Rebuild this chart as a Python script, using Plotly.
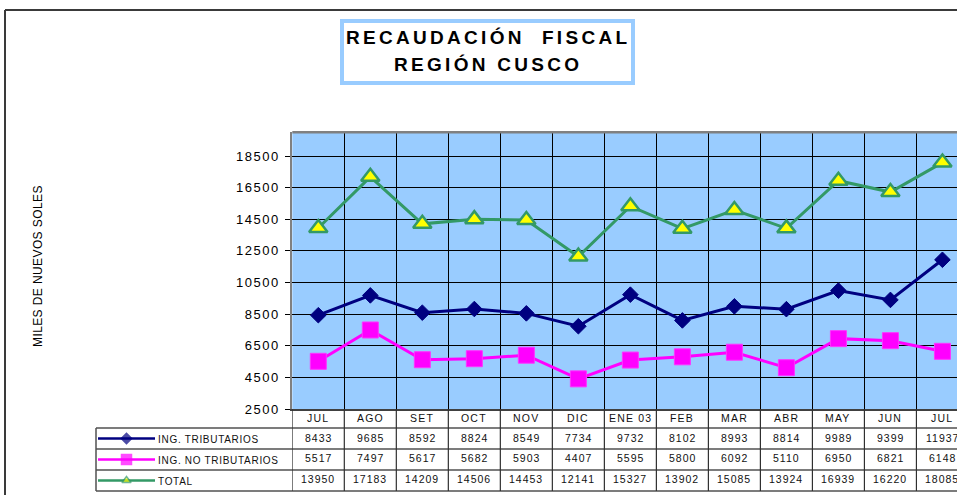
import plotly.graph_objects as go

# ---------------- data ----------------
categories = ["JUL", "AGO", "SET", "OCT", "NOV", "DIC", "ENE 03", "FEB", "MAR", "ABR", "MAY", "JUN", "JUL"]
ing_tributarios = [8433, 9685, 8592, 8824, 8549, 7734, 9732, 8102, 8993, 8814, 9989, 9399, 11937]
ing_no_tributarios = [5517, 7497, 5617, 5682, 5903, 4407, 5595, 5800, 6092, 5110, 6950, 6821, 6148]
total = [13950, 17183, 14209, 14506, 14453, 12141, 15327, 13902, 15085, 13924, 16939, 16220, 18085]
series_names = ["ING. TRIBUTARIOS", "ING. NO TRIBUTARIOS", "TOTAL"]
y_ticks = [2500, 4500, 6500, 8500, 10500, 12500, 14500, 16500, 18500]

W, H = 957, 495
FONT = "Liberation Sans, Arial, sans-serif"


def X(px):
    return px / W


def Y(py):
    return 1 - py / H


def sp(text, s):
    return '<span style="letter-spacing:%spx">%s</span>' % (s, text)


xs = list(range(len(categories)))
PLOT_L, PLOT_T, PLOT_B = 292.3, 132.3, 409.0
ROWS = [409.0, 428.0, 449.0, 470.0, 491.0]
TABLE_L = 96.0

NAVY, MAGENTA, GREEN, YELLOW = "#000080", "#FF00FF", "#339966", "#FFFF00"

fig = go.Figure()

fig.add_trace(go.Scatter(
    x=xs, y=ing_tributarios, mode="lines+markers", name=series_names[0],
    line=dict(color=NAVY, width=3),
    marker=dict(symbol="diamond", size=12, color=NAVY, line=dict(color=NAVY, width=1)),
    cliponaxis=False))
fig.add_trace(go.Scatter(
    x=xs, y=ing_no_tributarios, mode="lines+markers", name=series_names[1],
    line=dict(color=MAGENTA, width=3),
    marker=dict(symbol="square", size=16, color=MAGENTA, line=dict(color="#FF33FF", width=1)),
    cliponaxis=False))
fig.add_trace(go.Scatter(
    x=xs, y=total, mode="lines+markers", name=series_names[2],
    line=dict(color=GREEN, width=3),
    marker=dict(symbol="triangle-up", size=16, color=YELLOW, line=dict(color=GREEN, width=2.5)),
    cliponaxis=False))

# legend keys inside the table's first column (own small axes)
key_styles = [
    dict(color=NAVY, symbol="diamond", size=8, mcolor=NAVY, mline=NAVY),
    dict(color=MAGENTA, symbol="square", size=10, mcolor=MAGENTA, mline=MAGENTA),
    dict(color=GREEN, symbol="triangle-up", size=8, mcolor=YELLOW, mline=GREEN),
]
for i, st in enumerate(key_styles):
    yv = 2.5 - i
    fig.add_trace(go.Scatter(
        x=[0, 0.5, 1], y=[yv, yv, yv], mode="lines+markers", xaxis="x2", yaxis="y2",
        line=dict(color=st["color"], width=2.5),
        marker=dict(symbol=st["symbol"], size=[0, st["size"], 0], color=st["mcolor"],
                    line=dict(color=st["mline"], width=1.5)),
        showlegend=False, hoverinfo="skip", cliponaxis=False))

shapes = []
# plot background (below grid)
shapes.append(dict(type="rect", xref="paper", yref="paper", x0=X(PLOT_L), x1=1, y0=Y(PLOT_B), y1=Y(PLOT_T),
                   line=dict(width=0), fillcolor="#99CCFF", layer="below"))
# outer frame
shapes.append(dict(type="line", xref="paper", yref="paper", x0=X(5), x1=X(957), y0=Y(10), y1=Y(10),
                   line=dict(color="#3a3a3a", width=2)))
shapes.append(dict(type="line", xref="paper", yref="paper", x0=X(5), x1=X(5), y0=Y(10), y1=Y(495),
                   line=dict(color="#3a3a3a", width=2)))
# title box
shapes.append(dict(type="rect", xref="paper", yref="paper", x0=X(342), x1=X(633), y0=Y(21), y1=Y(83),
                   line=dict(color="#99CCFF", width=4), fillcolor="white"))
# plot top border
shapes.append(dict(type="line", xref="paper", yref="paper", x0=X(PLOT_L), x1=1, y0=Y(PLOT_T), y1=Y(PLOT_T),
                   line=dict(color="#808080", width=2.5)))
# table horizontal lines
for r in ROWS[1:]:
    shapes.append(dict(type="line", xref="paper", yref="paper", x0=X(TABLE_L), x1=1, y0=Y(r), y1=Y(r),
                       line=dict(color="#505050", width=1.5)))
# table left edge
shapes.append(dict(type="line", xref="paper", yref="paper", x0=X(TABLE_L), x1=X(TABLE_L),
                   y0=Y(ROWS[1]), y1=Y(ROWS[-1]), line=dict(color="#505050", width=1.5)))
# column separators (category boundaries)
for k in range(len(categories) + 1):
    shapes.append(dict(type="line", xref="x", yref="paper", x0=k - 0.5, x1=k - 0.5,
                       y0=Y(ROWS[0]), y1=Y(ROWS[-1]), line=dict(color="#303030", width=1.2)))


def ann(**kw):
    d = dict(showarrow=False, xanchor="center", yanchor="middle")
    d.update(kw)
    return d


annotations = []
# title
annotations.append(ann(xref="paper", yref="paper", x=X(488), y=Y(37.5),
                       text="<b>" + sp("RECAUDACIÓN&nbsp; FISCAL", 3.3) + "</b>",
                       font=dict(family=FONT, size=19, color="#000")))
annotations.append(ann(xref="paper", yref="paper", x=X(488), y=Y(64.5),
                       text="<b>" + sp("REGIÓN CUSCO", 3.3) + "</b>",
                       font=dict(family=FONT, size=19, color="#000")))
# y axis title
annotations.append(ann(xref="paper", yref="paper", x=X(38), y=Y(266), textangle=-90,
                       text=sp("MILES DE NUEVOS SOLES", 0.4), font=dict(family=FONT, size=12, color="#000")))
# category labels row
for i, c in enumerate(categories):
    annotations.append(ann(xref="x", yref="paper", x=i, y=Y(418),
                           text=sp(c, 1.2), font=dict(family=FONT, size=10.5, color="#111")))
# value rows
rows_data = [ing_tributarios, ing_no_tributarios, total]
row_centers = [437.5, 458, 479]
for vals, yc in zip(rows_data, row_centers):
    for i, v in enumerate(vals):
        annotations.append(ann(xref="x", yref="paper", x=i, y=Y(yc),
                               text=sp(str(v), 1.0), font=dict(family=FONT, size=10.5, color="#111")))
# series names in first column
for name, yc in zip(series_names, [439.5, 460.5, 481]):
    annotations.append(ann(xref="paper", yref="paper", x=X(156), y=Y(yc), xanchor="left",
                           text=sp(name, 0.7), font=dict(family=FONT, size=10, color="#111")))

fig.update_layout(
    width=W, height=H,
    margin=dict(l=0, r=0, t=0, b=0, autoexpand=False),
    paper_bgcolor="white",
    plot_bgcolor="rgba(0,0,0,0)",
    showlegend=False,
    font=dict(family=FONT, color="#000"),
    xaxis=dict(domain=[X(PLOT_L), 1], range=[-0.5, 12.28], tickvals=[k - 0.5 for k in range(len(categories) + 1)],
               showticklabels=False, ticks="", showgrid=True, gridcolor="#000", gridwidth=1, automargin=False,
               showline=True, linecolor="#404040", linewidth=2, zeroline=False, fixedrange=True),
    yaxis=dict(domain=[Y(PLOT_B), Y(PLOT_T)], range=[2500, 20000], tickvals=y_ticks,
               ticktext=[sp(str(v), 1.5) for v in y_ticks], automargin=False,
               ticks="outside", ticklen=5, tickcolor="#000", tickwidth=1, ticklabelstandoff=3,
               tickfont=dict(family=FONT, size=13, color="#000"),
               showgrid=True, gridcolor="#000", gridwidth=1,
               showline=True, linecolor="#808080", linewidth=2, zeroline=False, fixedrange=True),
    xaxis2=dict(domain=[X(98), X(155)], range=[0, 1], visible=False, fixedrange=True, anchor="y2",
                automargin=False),
    yaxis2=dict(domain=[Y(491), Y(428)], range=[0, 3], visible=False, fixedrange=True, anchor="x2",
                automargin=False),
    shapes=shapes,
    annotations=annotations,
)

fig.write_html("out.html", config={"displayModeBar": False},
               post_script="document.body.style.margin='0px';document.body.style.overflow='hidden';")
